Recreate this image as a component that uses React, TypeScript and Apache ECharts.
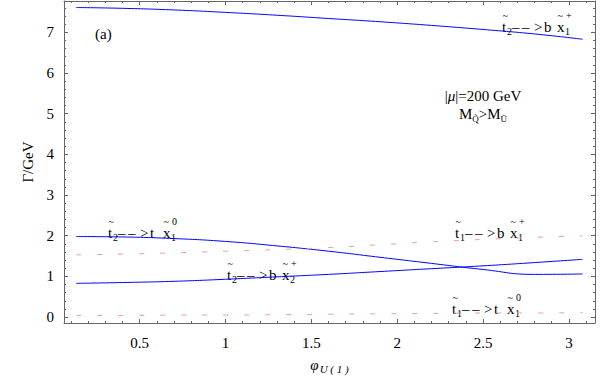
import React, { useEffect, useRef } from "react";
import * as echarts from "echarts";

// phi_U(1) sample points
const phi = [0.13, 0.4, 0.7, 1.0, 1.3, 1.6, 1.9, 2.2, 2.5, 2.8, 3.08];
// decay widths (GeV)
const t2_b_x1p = [7.61, 7.59, 7.55, 7.49, 7.42, 7.34, 7.26, 7.17, 7.07, 6.96, 6.83];
const t2_t_x10 = [1.98, 1.97, 1.93, 1.86, 1.75, 1.62, 1.47, 1.32, 1.17, 1.05, 1.06];
const t2_b_x2p = [0.83, 0.85, 0.88, 0.93, 0.99, 1.05, 1.12, 1.19, 1.26, 1.34, 1.42];
const t1_b_x1p = [1.53, 1.55, 1.58, 1.62, 1.66, 1.71, 1.78, 1.85, 1.91, 1.96, 2.0];
const t1_t_x10 = [0.04, 0.04, 0.05, 0.05, 0.06, 0.07, 0.08, 0.09, 0.1, 0.1, 0.11];

const xTickLabels = [0.5, 1, 1.5, 2, 2.5, 3];
const yTickLabels = [0, 1, 2, 3, 4, 5, 6, 7];

const XMIN = 0.059;
const XMAX = 3.152;
const YMIN = -0.145;
const YMAX = 7.77;

const FONT = "'Liberation Serif', 'Times New Roman', serif";
const FRAME = "#666";

function minorVals(lo: number, hi: number, step: number, majorStep: number) {
  const out: number[] = [];
  for (let k = Math.ceil(lo / step); k * step <= hi; k++) {
    const v = +(k * step).toFixed(6);
    const r = v / majorStep;
    if (Math.abs(r - Math.round(r)) > 1e-6) out.push(v);
  }
  return out;
}
const xMinor = minorVals(XMIN, XMAX, 0.1, 0.5);
const yMinor = minorVals(YMIN, YMAX, 0.2, 1);

function txt(x: number, y: number, text: string, size: number, italic = false) {
  return {
    type: "text",
    x,
    y,
    style: {
      text,
      fontSize: size,
      fontFamily: FONT,
      fontStyle: italic ? "italic" : "normal",
      fill: "#000",
      verticalAlign: "middle",
      align: "left",
    },
  };
}

function decayLabel(x0: number, yc: number, ti: string, letter: string, sub: string, sup: string) {
  return [
    txt(x0, yc, "t", 15),
    txt(x0 + 0.5, yc - 12, "~", 10),
    txt(x0 + 5, yc + 4, ti, 10),
    txt(x0 + 10, yc, "–", 15),
    txt(x0 + 20, yc, "–", 15),
    txt(x0 + 32, yc, ">", 15),
    txt(x0 + 42, yc, letter, 15),
    txt(x0 + 55, yc, "x", 15),
    txt(x0 + 55.5, yc - 12, "~", 10),
    txt(x0 + 63, yc + 4, sub, 10),
    txt(x0 + 64, yc - 12, sup, 10),
  ];
}

const makeSeries = (vals: number[], color: string, dashed: boolean) => ({
  type: "line",
  xAxisIndex: 0,
  yAxisIndex: 0,
  data: phi.map((p, i) => [p, vals[i]]),
  showSymbol: false,
  smooth: 0.5,
  lineStyle: { color, width: 1, type: dashed ? [5, 16] : "solid" },
});

export default function App() {
  const ref = useRef<HTMLDivElement>(null);
  useEffect(() => {
    const chart = echarts.init(ref.current!, null, { renderer: "svg" });
    const tickStyle = { color: FRAME, width: 1 };
    const baseX = { type: "value", min: XMIN, max: XMAX, splitLine: { show: false } };
    const baseY = { type: "value", min: YMIN, max: YMAX, splitLine: { show: false } };
    chart.setOption({
      animation: false,
      backgroundColor: "#fff",
      grid: { left: 64, right: 19, top: 1, bottom: 51 },
      xAxis: [
        {
          ...baseX,
          position: "bottom",
          axisLine: { show: true, onZero: false, lineStyle: { color: FRAME } },
          axisTick: { show: true, inside: true, length: 4, customValues: xTickLabels, lineStyle: tickStyle },
          axisLabel: {
            customValues: xTickLabels,
            formatter: (v: number) => String(v),
            fontFamily: FONT,
            fontSize: 15,
            color: "#000",
            margin: 12,
          },
          name: "{phi|φ}{sub|U ( 1 )}",
          nameLocation: "middle",
          nameGap: 34,
          nameTextStyle: {
            rich: {
              phi: { fontFamily: FONT, fontStyle: "italic", fontSize: 15, color: "#000", verticalAlign: "top" },
              sub: { fontFamily: FONT, fontStyle: "italic", fontSize: 11, color: "#000", verticalAlign: "bottom", padding: [6, 0, 0, 1] },
            },
          },
        },
        {
          ...baseX,
          position: "bottom",
          axisLine: { show: false, onZero: false },
          axisTick: { show: true, inside: true, length: 2, customValues: xMinor, lineStyle: tickStyle },
          axisLabel: { show: false },
        },
        {
          ...baseX,
          position: "top",
          axisLine: { show: true, onZero: false, lineStyle: { color: FRAME } },
          axisTick: { show: true, inside: true, length: 4, customValues: xTickLabels, lineStyle: tickStyle },
          axisLabel: { show: false },
        },
        {
          ...baseX,
          position: "top",
          axisLine: { show: false, onZero: false },
          axisTick: { show: true, inside: true, length: 2, customValues: xMinor, lineStyle: tickStyle },
          axisLabel: { show: false },
        },
      ],
      yAxis: [
        {
          ...baseY,
          position: "left",
          axisLine: { show: true, onZero: false, lineStyle: { color: FRAME } },
          axisTick: { show: true, inside: true, length: 4, customValues: yTickLabels, lineStyle: tickStyle },
          axisLabel: {
            customValues: yTickLabels,
            formatter: (v: number) => String(v),
            fontFamily: FONT,
            fontSize: 15,
            color: "#000",
            margin: 10,
          },
          name: "Γ/GeV",
          nameLocation: "middle",
          nameRotate: 90,
          nameGap: 28,
          nameTextStyle: { fontFamily: FONT, fontSize: 15, color: "#000" },
        },
        {
          ...baseY,
          position: "left",
          axisLine: { show: false, onZero: false },
          axisTick: { show: true, inside: true, length: 2, customValues: yMinor, lineStyle: tickStyle },
          axisLabel: { show: false },
        },
        {
          ...baseY,
          position: "right",
          axisLine: { show: true, onZero: false, lineStyle: { color: FRAME } },
          axisTick: { show: true, inside: true, length: 4, customValues: yTickLabels, lineStyle: tickStyle },
          axisLabel: { show: false },
        },
        {
          ...baseY,
          position: "right",
          axisLine: { show: false, onZero: false },
          axisTick: { show: true, inside: true, length: 2, customValues: yMinor, lineStyle: tickStyle },
          axisLabel: { show: false },
        },
      ],
      series: [
        makeSeries(t2_b_x1p, "#0000ff", false),
        makeSeries(t2_t_x10, "#0000ff", false),
        makeSeries(t2_b_x2p, "#0000ff", false),
        makeSeries(t1_b_x1p, "#f49a9a", true),
        makeSeries(t1_t_x10, "#f49a9a", true),
      ],
      graphic: [
        txt(95, 34, "(a)", 15),
        {
          type: "text",
          x: 483,
          y: 96,
          style: {
            text: "|{i|μ}|=200 GeV",
            rich: { i: { fontFamily: FONT, fontSize: 15, fontStyle: "italic", fill: "#000" } },
            fontSize: 15,
            fontFamily: FONT,
            fill: "#000",
            align: "center",
            verticalAlign: "middle",
          },
        },
        {
          type: "text",
          x: 483,
          y: 114,
          style: {
            text: "M{s|Q\u0303}>M{s|\u0168}",
            rich: { s: { fontFamily: FONT, fontSize: 9, fill: "#000", padding: [9, 0, 0, 0] } },
            fontSize: 15,
            fontFamily: FONT,
            fill: "#000",
            align: "center",
            verticalAlign: "middle",
          },
        },
        ...decayLabel(502, 27, "2", "b", "1", "+"),
        ...decayLabel(108, 233, "2", "t", "1", "0"),
        ...decayLabel(227, 275, "2", "b", "2", "+"),
        ...decayLabel(455, 233, "1", "b", "1", "+"),
        ...decayLabel(452, 309, "1", "t", "1", "0"),
      ],
    });
    return () => chart.dispose();
  }, []);
  return (
    <div
      ref={ref}
      style={{ position: "fixed", left: 0, top: 0, width: 614, height: 379 }}
    />
  );
}
